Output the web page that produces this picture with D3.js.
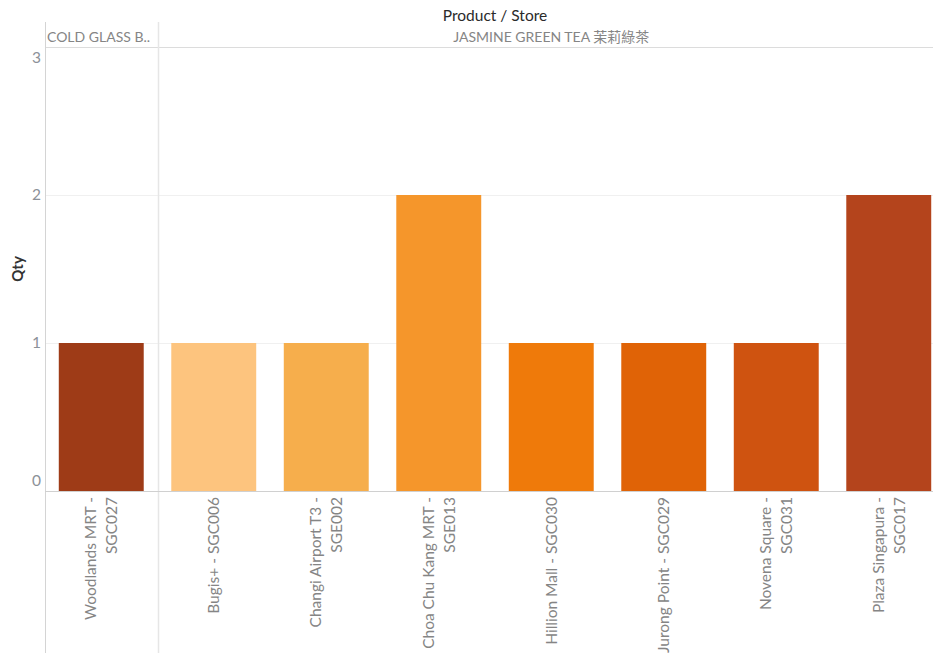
<!DOCTYPE html>
<html>
<head>
<meta charset="utf-8">
<script src="https://cdn.jsdelivr.net/npm/d3@7/dist/d3.min.js"></script>
<style>
  body { margin: 0; background: #fff; }
  svg text { font-family: Lato, "Noto Sans", "Noto Sans CJK TC", sans-serif; }
</style>
</head>
<body>
<svg id="chart"></svg>
<script>
// data
var products = ['COLD GLASS B..', 'JASMINE GREEN TEA 茉莉綠茶'];
var stores = ['Woodlands MRT - SGC027', 'Bugis+ - SGC006', 'Changi Airport T3 - SGE002',
  'Choa Chu Kang MRT - SGE013', 'Hillion Mall - SGC030', 'Jurong Point - SGC029',
  'Novena Square - SGC031', 'Plaza Singapura - SGC017'];
var productOf = [0, 1, 1, 1, 1, 1, 1, 1];
var qty = [1, 1, 1, 2, 1, 1, 1, 2];
var colors = ['#9e3b17', '#fdc47e', '#f6ae4c', '#f5962b', '#ef7a0a', '#e06306', '#cf5310', '#b4441c'];
var yTicks = [0, 1, 2, 3];

var W = 933, H = 662;
var padLeft = 45, padRight = 945, padTop = 47, padBottom = 491, headTop = 22;

var svg = d3.select('#chart').attr('width', W).attr('height', H);

var x = d3.scaleBand().domain(d3.range(stores.length))
  .range([padLeft, padRight]).paddingInner(0.245).paddingOuter(0.1225);
var y = d3.scaleLinear().domain([0, 3]).range([padBottom, padTop]);

// gridlines
svg.append('g').selectAll('line').data(yTicks.slice(1, 3))
  .enter().append('line')
  .attr('x1', padLeft).attr('x2', W)
  .attr('y1', function(d) { return y(d) + 0.5; })
  .attr('y2', function(d) { return y(d) + 0.5; })
  .attr('stroke', '#f0f0f0');

// header line and group separators
svg.append('line').attr('x1', padLeft).attr('x2', W).attr('y1', padTop + 0.5).attr('y2', padTop + 0.5)
  .attr('stroke', '#dcdcdc');

var groupStart = [];
productOf.forEach(function(p, i) { if (i === 0 || productOf[i - 1] !== p) groupStart.push(i); });
var sepX = groupStart.map(function(i) { return i === 0 ? padLeft : x(i) - x.step() * x.paddingInner() / 2; });

svg.append('g').selectAll('line').data(sepX)
  .enter().append('line')
  .attr('x1', function(d) { return Math.round(d) + 0.5; })
  .attr('x2', function(d) { return Math.round(d) + 0.5; })
  .attr('y1', headTop).attr('y2', 653)
  .attr('stroke', function(d, i) { return i === 0 ? '#d4d4d4' : '#e6e6e6'; })
  .attr('stroke-width', function(d, i) { return i === 0 ? 1 : 1.5; });

// bars
svg.append('g').selectAll('rect').data(qty)
  .enter().append('rect')
  .attr('x', function(d, i) { return x(i); })
  .attr('width', x.bandwidth())
  .attr('y', function(d) { return y(d); })
  .attr('height', function(d) { return y(0) - y(d); })
  .attr('fill', function(d, i) { return colors[i]; });

// zero line
svg.append('line').attr('x1', padLeft).attr('x2', W).attr('y1', padBottom + 0.5).attr('y2', padBottom + 0.5)
  .attr('stroke', '#d0d0d0');

// y axis labels (kept inside the pane like Tableau does)
svg.append('g').selectAll('text').data(yTicks)
  .enter().append('text')
  .attr('x', 41)
  .attr('y', function(d) { return Math.min(Math.max(y(d), padTop + 11), padBottom - 10); })
  .attr('dy', '0.35em')
  .attr('text-anchor', 'end')
  .attr('fill', '#8c9198')
  .style('font-size', '15.5px')
  .text(function(d) { return d; });

svg.append('text')
  .attr('transform', 'translate(23,' + (padTop + padBottom) / 2 + ') rotate(-90)')
  .attr('text-anchor', 'middle')
  .attr('fill', '#333')
  .style('font-size', '15px').style('font-weight', 'bold')
  .text('Qty');

// header
svg.append('text')
  .attr('x', (padLeft + padRight) / 2).attr('y', 21)
  .attr('text-anchor', 'middle').attr('fill', '#2a2a2a')
  .style('font-size', '15.5px')
  .text('Product / Store');

var groupEnd = sepX.slice(1).concat([padRight]);
svg.append('g').selectAll('text').data(products)
  .enter().append('text')
  .attr('x', function(d, i) { return i === 0 ? padLeft + 2 : (sepX[i] + groupEnd[i]) / 2; })
  .attr('y', 42)
  .attr('text-anchor', function(d, i) { return i === 0 ? 'start' : 'middle'; })
  .attr('fill', '#858585')
  .style('font-size', '14px')
  .text(function(d) { return d; });

// x labels, rotated and wrapped
var maxLen = 158, lineH = 21;
var labels = svg.append('g').selectAll('text').data(stores)
  .enter().append('text')
  .attr('text-anchor', 'end')
  .attr('fill', '#858585')
  .style('font-size', '15.5px');

labels.each(function(d, i) {
  var t = d3.select(this);
  var words = d.split(' '), lines = [], cur = [];
  var probe = t.append('tspan');
  words.forEach(function(w) {
    cur.push(w);
    probe.text(cur.join(' '));
    if (probe.node().getComputedTextLength() > maxLen && cur.length > 1) {
      cur.pop();
      lines.push(cur.join(' '));
      cur = [w];
    }
  });
  lines.push(cur.join(' '));
  probe.remove();
  var cx = x(i) + x.bandwidth() / 2;
  t.attr('transform', 'translate(' + cx + ',' + (padBottom + 6) + ') rotate(-90)');
  lines.forEach(function(l, k) {
    t.append('tspan').attr('x', 0)
      .attr('y', (k - (lines.length - 1) / 2) * lineH)
      .attr('dy', '0.35em')
      .text(l);
  });
});
</script>
</body>
</html>
